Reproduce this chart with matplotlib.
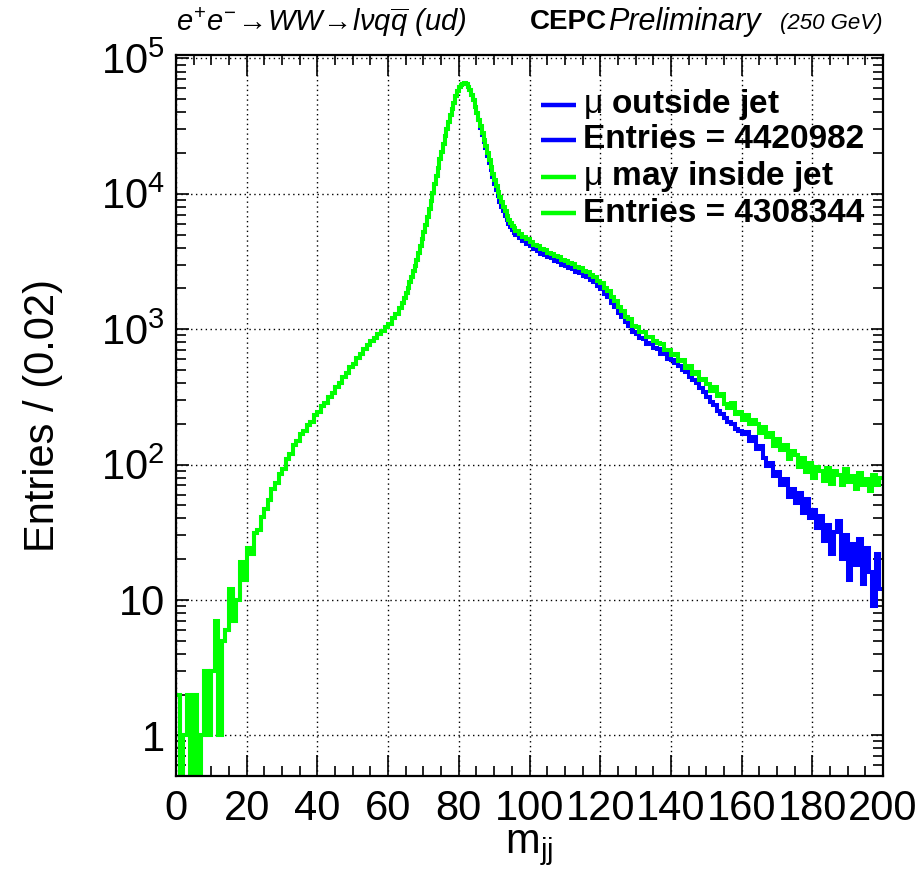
import numpy as np
import matplotlib
matplotlib.use("Agg")
import matplotlib.pyplot as plt
from matplotlib.ticker import FixedLocator, FixedFormatter, MultipleLocator, NullFormatter

plt.rcParams["font.family"] = ["Liberation Sans", "DejaVu Sans"]
plt.rcParams["mathtext.fontset"] = "custom"
plt.rcParams["mathtext.rm"] = "Liberation Sans"
plt.rcParams["mathtext.it"] = "Liberation Sans:italic"
plt.rcParams["mathtext.bf"] = "Liberation Sans:bold"

# Binning: 1 GeV bins, refined to 0.5 GeV across the W peak (64-96 GeV)
bin_edges = np.concatenate([np.arange(0, 64, 1.0),
                            np.arange(64, 96, 0.5),
                            np.arange(96, 201, 1.0)])

# Di-jet mass spectrum, muon outside the jets
mu_outside = [
    # 0-63 GeV
    2, 0, 1, 2, 0, 2, 0, 1, 3, 1,
    3, 4, 1, 5, 6, 11, 7, 10, 18, 14,
    24, 22, 31, 33, 41, 47, 55, 66, 73, 85,
    92, 110, 119, 139, 148, 168, 177, 197, 207, 233,
    246, 272, 287, 318, 337, 372, 397, 442, 474, 522,
    556, 612, 652, 718, 762, 822, 866, 922, 972, 1032,
    1095, 1200, 1290, 1440,
    # 64-96 GeV (0.5 GeV bins)
    1560, 1700, 1850, 2020, 2220, 2430, 2680, 2950, 3260, 3650,
    4100, 4600, 5200, 5900, 6750, 7750, 8900, 10200, 11800, 13600,
    15600, 18000, 20500, 23400, 26500, 30000, 34000, 38000, 42500, 47000,
    53000, 57500, 61000, 63500, 65000, 65500, 64500, 62000, 58500, 54000,
    49000, 44000, 39500, 35000, 30800, 27300, 24200, 21700, 19100, 16900,
    14900, 13200, 11800, 10600, 9600, 8700, 8000, 7400, 6850, 6400,
    6000, 5680, 5400, 5170,
    # 96-200 GeV
    4940, 4700, 4490, 4280,
    4080, 3900, 3800, 3620, 3540, 3390, 3330, 3180, 3120, 3000,
    2940, 2810, 2760, 2640, 2600, 2480, 2430, 2300, 2230, 2090,
    1990, 1830, 1730, 1570, 1470, 1320, 1240, 1120, 1060, 960,
    925, 855, 850, 780, 785, 725, 715, 660, 655, 600,
    590, 560, 535, 500, 485, 440, 420, 400, 365, 345,
    318, 290, 275, 250, 238, 222, 205, 200, 182, 178,
    168, 175, 150, 160, 130, 138, 112, 98, 102, 82,
    88, 70, 78, 58, 66, 52, 62, 44, 56, 40,
    46, 34, 42, 27, 36, 22, 32, 38, 20, 30,
    14, 26, 18, 28, 13, 24, 16, 9, 22, 12,
]

# Di-jet mass spectrum, muon possibly inside a jet
mu_inside = [
    # 0-63 GeV
    2, 0, 1, 2, 0, 2, 0, 1, 3, 1,
    3, 7, 1, 5, 6, 12, 7, 10, 19, 14,
    24, 22, 31, 33, 41, 47, 55, 66, 73, 85,
    92, 110, 119, 139, 148, 168, 177, 197, 207, 233,
    246, 272, 287, 318, 337, 372, 397, 442, 474, 522,
    556, 612, 652, 718, 762, 822, 866, 922, 972, 1032,
    1095, 1200, 1290, 1440,
    # 64-96 GeV (0.5 GeV bins)
    1560, 1700, 1850, 2020, 2220, 2430, 2680, 2950, 3260, 3650,
    4100, 4600, 5200, 5900, 6750, 7750, 8900, 10200, 11800, 13600,
    15600, 18000, 20500, 23400, 26500, 30000, 34000, 38000, 42500, 47000,
    53000, 57500, 61000, 63500, 65000, 65500, 64500, 62000, 58500, 54000,
    49000, 44000, 39500, 35000, 31500, 28000, 25000, 22500, 20000, 17800,
    15800, 14100, 12700, 11400, 10300, 9400, 8700, 8000, 7400, 6900,
    6450, 6100, 5800, 5550,
    # 96-200 GeV
    5300, 5050, 4820, 4600,
    4400, 4220, 4120, 3930, 3840, 3680, 3620, 3460, 3400, 3260,
    3200, 3060, 3010, 2880, 2840, 2710, 2660, 2510, 2440, 2280,
    2190, 2010, 1900, 1720, 1620, 1450, 1370, 1230, 1180, 1060,
    1030, 950, 955, 870, 880, 815, 790, 775, 700, 705,
    640, 650, 585, 590, 520, 530, 470, 480, 420, 430,
    395, 350, 372, 320, 330, 280, 262, 285, 236, 245,
    212, 232, 198, 215, 200, 172, 190, 160, 170, 138,
    155, 128, 140, 110, 125, 118, 96, 112, 88, 102,
    80, 96, 90, 76, 94, 72, 90, 84, 70, 92,
    74, 82, 66, 86, 70, 78, 64, 84, 70, 80,
]

legend_labels = [r"$\mathrm{\mu}$ outside jet", "Entries = 4420982",
                 r"$\mathrm{\mu}$ may inside jet", "Entries = 4308344"]
blue = "#0000ff"
green = "#00ff00"
legend_colors = [blue, blue, green, green]

W, H = 923, 869
fig = plt.figure(figsize=(W / 100, H / 100), dpi=100)
ax = fig.add_axes([176 / W, 93 / H, 707 / W, 721 / H])
ax.set_yscale("log")


def for_log(vals):
    v = np.asarray(vals, dtype=float)
    return np.where(v > 0, v, 1e-2)


ax.stairs(for_log(mu_outside), bin_edges, baseline=None, color=blue, lw=2.9, zorder=3)
ax.stairs(for_log(mu_inside), bin_edges, baseline=None, color=green, lw=2.9, zorder=4)

ax.set_xlim(0, 200)
ax.set_ylim(0.5, 1.06e5)

# Inward ticks on all four sides
ax.xaxis.set_major_locator(MultipleLocator(20))
ax.xaxis.set_minor_locator(MultipleLocator(5))
decades = [1, 10, 100, 1e3, 1e4, 1e5]
ax.yaxis.set_major_locator(FixedLocator(decades))
ax.yaxis.set_major_formatter(FixedFormatter(
    ["1", "10", r"$10^{2}$", r"$10^{3}$", r"$10^{4}$", r"$10^{5}$"]))
minors = [m * d for d in [0.1, 1, 10, 100, 1e3, 1e4] for m in range(2, 10)]
ax.yaxis.set_minor_locator(FixedLocator(minors))
ax.yaxis.set_minor_formatter(NullFormatter())

ax.tick_params(axis="x", which="major", direction="in", length=15, width=1.2,
               top=True, labelsize=30, pad=9)
ax.tick_params(axis="x", which="minor", direction="in", length=7.5, width=1.2, top=True)
ax.tick_params(axis="y", which="major", direction="in", length=9, width=1.2,
               right=True, labelsize=30, pad=8)
ax.tick_params(axis="y", which="minor", direction="in", length=7, width=1.2, right=True)

for s in ax.spines.values():
    s.set_linewidth(1.6)
    s.set_zorder(6)

ax.grid(True, which="major", color="black", linestyle=(0, (1, 2.5)), linewidth=1.0)
ax.set_axisbelow(True)

ax.set_xlabel(r"m$_{\mathrm{jj}}$", fontsize=30, labelpad=0)
ax.set_ylabel("Entries / (0.02)", fontsize=30, labelpad=27)

# Header line
ty = 1 - 22 / H
fig.text(176 / W, ty, r"$e^{+}e^{-}\!\rightarrow\! WW\!\rightarrow\! l\nu q\overline{q}$ (ud)",
         fontsize=21, style="italic", ha="left", va="center")
fig.text(530 / W, ty, "CEPC", fontsize=20, fontweight="bold", ha="left", va="center")
fig.text(608 / W, ty, "Preliminary", fontsize=22, style="italic", ha="left", va="center")
fig.text(882 / W, 1 - 23 / H, "(250 GeV)", fontsize=16, style="italic", ha="right", va="center")

# Legend entries: short coloured line plus bold text
row_y = [105, 140, 177, 213]
for yp, col, lab in zip(row_y, legend_colors, legend_labels):
    yf = 1 - yp / H
    ax.plot([541 / W, 576 / W], [yf, yf], color=col, lw=3.2, transform=fig.transFigure,
            clip_on=False, zorder=7, solid_capstyle="butt")
    fig.text(583 / W, yf, lab, fontsize=24, fontweight="bold", ha="left", va="center",
             zorder=7)

fig.savefig("out.png", dpi=100, facecolor="white")
